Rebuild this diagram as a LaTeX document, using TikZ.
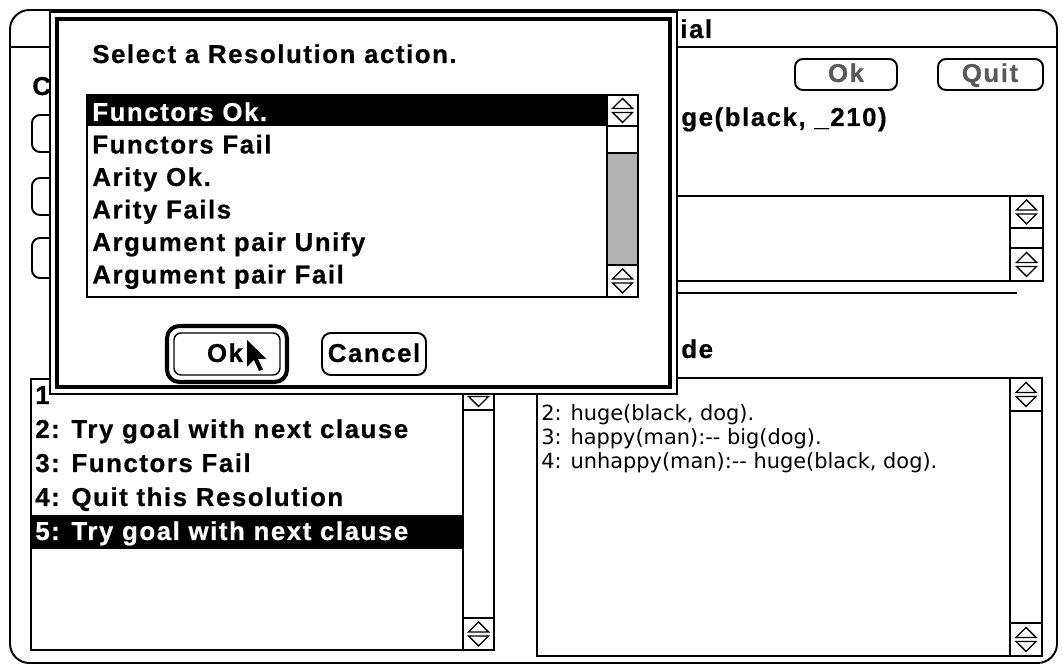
\documentclass[tikz,border=0pt]{standalone}
\usepackage{fontspec}
\newfontfamily\chifont[LetterSpace=6, BoldFeatures={FakeBold=0.6}]{Liberation Sans}
\newfontfamily\genfont{DejaVu Sans}
\begin{document}
\begin{tikzpicture}[x=0.02cm,y=-0.02cm,
  chi/.style={font=\chifont\bfseries\fontsize{14.7pt}{17pt}\selectfont, inner sep=0pt, anchor=base west},
  chic/.style={chi, anchor=base},
  gen/.style={font=\genfont\fontsize{11.9pt}{14pt}\selectfont, inner sep=0pt, anchor=base west},
  frame/.style={draw, line width=1.1pt},
  thin/.style={draw, line width=0.8pt},
  btn/.style={draw, line width=1.1pt, rounded corners=4.5pt},
  updown/.pic={
    \draw[line width=0.8pt] (-10,-2) -- (0,-12) -- (10,-2) -- cycle;
    \draw[line width=0.8pt] (-10,2) -- (10,2) -- (0,12) -- cycle;
  }]
\fill[white] (0,0) rectangle (1063,668);
\useasboundingbox (0,0) rectangle (1063,668);

% ---------- back window ----------
\draw[frame, rounded corners=11pt] (10,10) rectangle (1057,663);
\draw[frame] (10,47) -- (1057,47);
\node[chi] (wintitle) at (680,38) {ial};
\node[chi] (lblC) at (32,95) {C};
\foreach \t/\b in {115/152,178/215,238/278}
  \draw[btn] (32,\t) rectangle (200,\b);

% buttons of the back window
\draw[btn] (795,59) rectangle (897,90);
\node[chic, text=black!65] (okback) at (846,82) {Ok};
\draw[btn] (938,59) rectangle (1043,90);
\node[chic, text=black!65] (quitback) at (990,82) {Quit};

\node[chi] (goal) at (681,126) {ge(black, \_210)};

% small text box with scroll arrows
\draw[thin] (600,196) rectangle (1043,281);
\draw[thin] (1010,196) -- (1010,281);
\draw[thin] (1010,228) -- (1043,228);
\draw[thin] (1010,248) -- (1043,248);
\pic at (1026.5,212) {updown};
\pic at (1026.5,264.5) {updown};
\draw[line width=1.2pt] (600,293) -- (1017,293);

% code panel
\node[chi] (codelbl) at (681,358) {de};
\draw[thin] (537,378) rectangle (1042,656);
\draw[thin] (1010,378) -- (1010,656);
\draw[thin] (1010,411) -- (1042,411);
\draw[thin] (1010,623) -- (1042,623);
\pic at (1026,394.5) {updown};
\pic at (1026,639.5) {updown};
\node[gen] (c2) at (541,421) {2: huge(black, dog).};
\node[gen] (c3) at (541,445) {3: happy(man):-- big(dog).};
\node[gen] (c4) at (541,469) {4: unhappy(man):-- huge(black, dog).};

% trace list
\draw[thin] (31,379) rectangle (494,650);
\fill (31,515) rectangle (463,549);
\draw[thin] (463,379) -- (463,650);
\draw[thin] (463,410) -- (494,410);
\draw[thin] (463,618) -- (494,618);
\pic at (478.5,394.5) {updown};
\pic at (478.5,634) {updown};
\node[chi] (r1) at (35,404) {1};
\node[chi] (r2) at (35,438) {2: Try goal with next clause};
\node[chi] (r3) at (35,472) {3: Functors Fail};
\node[chi] (r4) at (35,506) {4: Quit this Resolution};
\node[chi, text=white] (r5) at (35,540) {5: Try goal with next clause};

% ---------- modal dialog ----------
\draw[line width=1.1pt, fill=white] (50,12) rectangle (677,394);
\draw[line width=2.2pt] (57,19) rectangle (670,387);
\node[chi] (dlgtitle) at (92,63) {Select a Resolution action.};

\fill (87,95) rectangle (607,126);
\fill[black!30] (607,153) rectangle (638,265);
\draw[thin] (87,95) rectangle (638,297);
\draw[thin] (607,95) -- (607,297);
\draw[thin] (607,126) -- (638,126);
\draw[thin] (607,153) -- (638,153);
\draw[thin] (607,265) -- (638,265);
\fill[white] (608,96) rectangle (637,125);
\pic at (622.5,110.5) {updown};
\pic at (622.5,281) {updown};

\node[chi, text=white] (a1) at (92,121) {Functors Ok.};
\node[chi] (a2) at (92,153.5) {Functors Fail};
\node[chi] (a3) at (92,186) {Arity Ok.};
\node[chi] (a4) at (92,218.5) {Arity Fails};
\node[chi] (a5) at (92,251) {Argument pair Unify};
\node[chi] (a6) at (92,283.5) {Argument pair Fail};

% default button with pointer
\draw[line width=2.3pt, rounded corners=7pt] (167,326) rectangle (287,382);
\draw[line width=0.8pt, rounded corners=4pt] (174,333) rectangle (280,375);
\node[chic] (okdlg) at (225,362) {Ok};
\fill (247,340) -- ++(0,27) -- ++(7,-7) -- ++(5,11) -- ++(4,-1.5)
      -- ++(-5,-10.5) -- ++(8.5,0) -- cycle;
\draw[btn, rounded corners=5pt] (322,333) rectangle (426,375);
\node[chic] (cancel) at (374,362) {Cancel};
\end{tikzpicture}
\end{document}
